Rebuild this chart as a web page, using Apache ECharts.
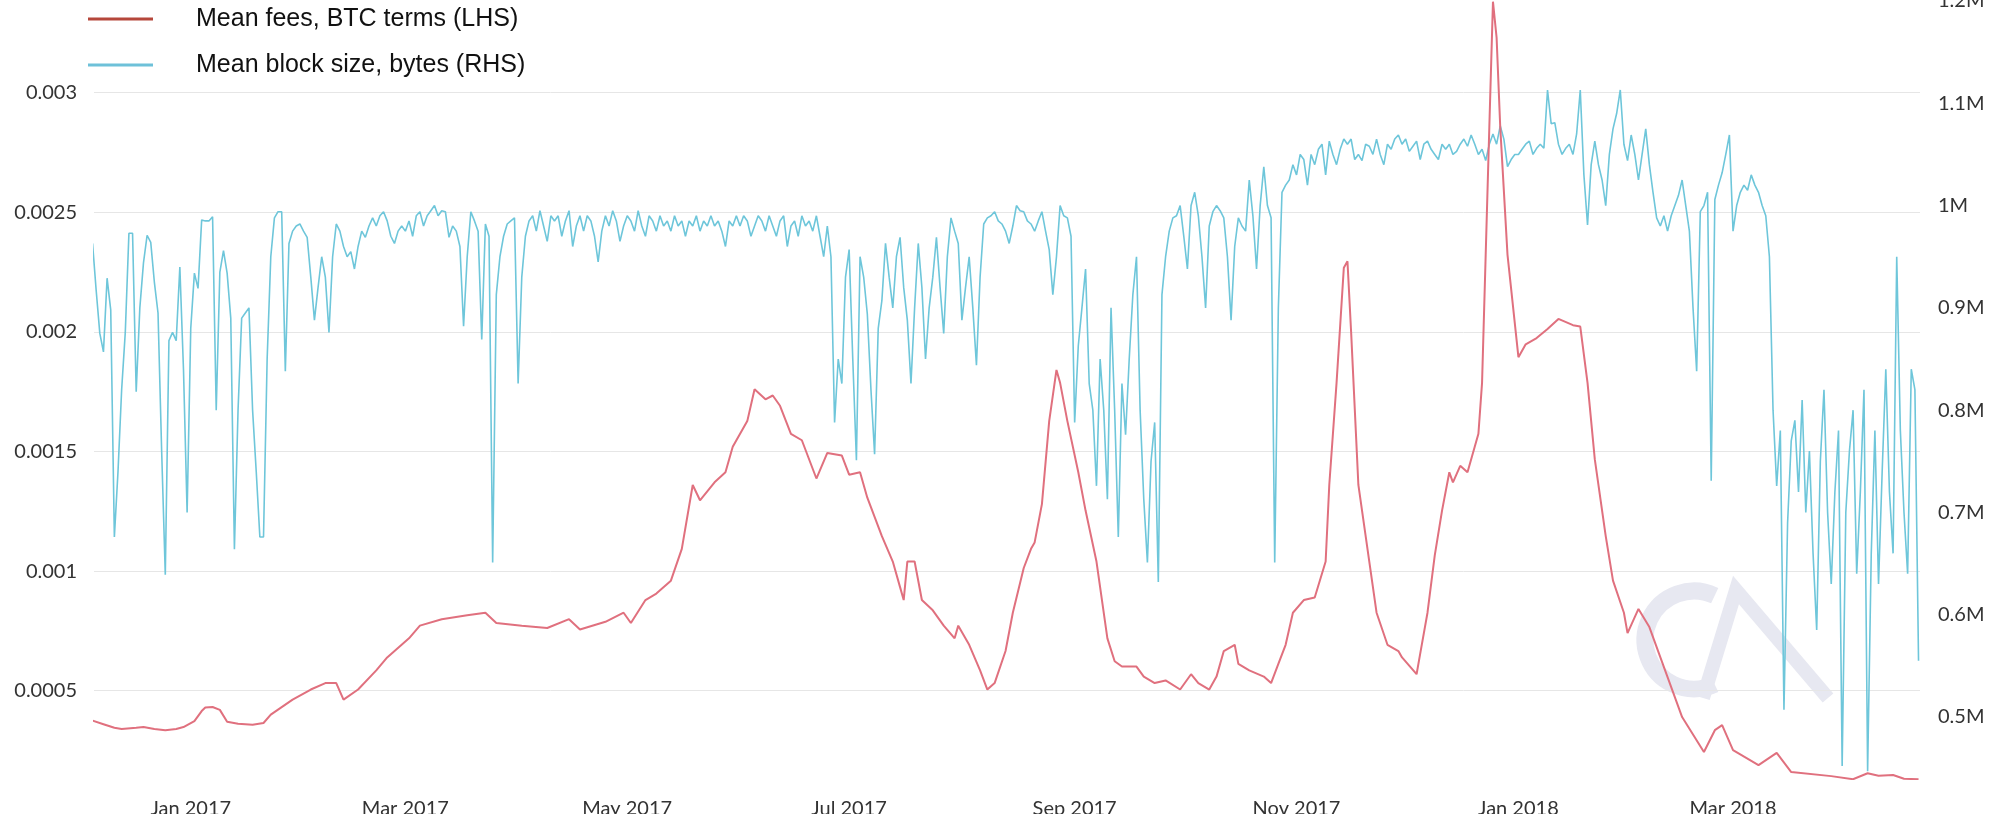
<!DOCTYPE html>
<html><head><meta charset="utf-8">
<script src="https://cdn.jsdelivr.net/npm/echarts@6/dist/echarts.min.js"></script>
<style>html,body{margin:0;padding:0;background:#fff}#c{width:2000px;height:814px}</style>
</head><body><div id="c"></div>
<script>
// Day offsets are days counted from 2017-01-01
const BASE_DATE = [2017, 0, 1];
const X_MIN_DAY = -26.6, X_MAX_DAY = 475.4;
const xTickDates = ['2017-01-01','2017-03-01','2017-05-01','2017-07-01','2017-09-01','2017-11-01','2018-01-01','2018-03-01'];
const xTickLabels = ['Jan 2017','Mar 2017','May 2017','Jul 2017','Sep 2017','Nov 2017','Jan 2018','Mar 2018'];
const seriesNames = ['Mean fees, BTC terms (LHS)', 'Mean block size, bytes (RHS)'];

// Mean fees (BTC) at these day offsets
const feeDay = [-27,-24,-21,-19,-15,-13,-10,-7,-4,-2,1,3,4,6,8,10,13,17,20,22,28,33,37,40,42,46,51,54,60,63,69,76,81,84,91,98,104,107,114,119,121,125,128,132,135,138,140,144,147,149,153,155,158,160,162,165,168,172,175,179,181,184,186,190,193,195,196,197,199,201,204,207,210,211,214,217,219,221,224,226,229,231,232,234,236,238,239,241,244,246,249,252,254,256,260,262,265,268,272,275,277,280,282,284,287,288,291,295,297,299,301,303,306,309,312,313,315,317,318,319,321,324,326,329,332,333,337,338,340,342,344,346,347,349,351,354,355,356,357,358,359,360,362,365,367,370,373,376,380,382,384,386,389,391,394,395,398,401,406,410,416,419,421,424,431,436,440,451,457,461,464,468,471,475];
const fee = [0.000375,0.00036,0.000345,0.00034,0.000345,0.000348,0.00034,0.000335,0.00034,0.000348,0.000373,0.000415,0.00043,0.000432,0.00042,0.00037,0.000362,0.000358,0.000365,0.0004,0.000463,0.000505,0.000532,0.000532,0.000463,0.000505,0.000585,0.000639,0.000719,0.000772,0.000799,0.000815,0.000826,0.000783,0.000772,0.000762,0.000799,0.000756,0.000788,0.000826,0.000783,0.000879,0.000906,0.00096,0.001093,0.00136,0.001296,0.001371,0.001413,0.00152,0.001627,0.00176,0.001718,0.001734,0.001691,0.001574,0.001547,0.001387,0.001494,0.001483,0.001403,0.001413,0.001307,0.001146,0.00104,0.000933,0.000879,0.00104,0.00104,0.000879,0.000836,0.000772,0.000719,0.000772,0.000692,0.000585,0.000505,0.000532,0.000666,0.000826,0.001013,0.001093,0.00112,0.00128,0.001627,0.001841,0.001787,0.001627,0.001413,0.001253,0.00104,0.000719,0.000623,0.000601,0.000601,0.000559,0.000532,0.000543,0.000505,0.000569,0.000532,0.000505,0.000559,0.000666,0.000692,0.000612,0.000585,0.000559,0.000532,0.000612,0.000692,0.000826,0.000879,0.00089,0.00104,0.00136,0.001787,0.002268,0.002295,0.002001,0.00136,0.00104,0.000826,0.000692,0.000666,0.000639,0.000569,0.000655,0.000826,0.001066,0.001253,0.001413,0.001371,0.00144,0.001413,0.001574,0.001787,0.002322,0.002856,0.00338,0.00323,0.002856,0.002322,0.001894,0.001948,0.001974,0.002012,0.002054,0.002028,0.002022,0.001787,0.001467,0.001146,0.00096,0.000826,0.000741,0.000842,0.000766,0.000557,0.00039,0.000244,0.000335,0.000356,0.000252,0.000189,0.00024,0.00016,0.000143,0.00013,0.000155,0.000145,0.000148,0.000132,0.00013];

// Mean block size (millions of bytes), one value per day starting 2016-12-05
const blockStart = '2016-12-05';
const blockSize = [
// Dec 2016 (from 5th)
0.963,0.917,0.875,0.857,0.929,0.898,0.676,0.74,0.82,0.876,0.973,0.973,0.818,0.9,0.944,0.971,0.964,0.925,0.895,0.76,0.639,0.868,0.876,0.868,0.94,0.84,0.70,
// Jan 2017
0.88,0.934,0.919,0.986,0.985,0.985,0.989,0.80,0.935,0.956,0.934,0.89,0.664,0.80,0.89,0.895,0.90,0.80,0.74,0.676,0.676,0.85,0.95,0.988,0.994,0.994,0.838,0.963,0.975,0.98,0.982,
// Feb 2017
0.975,0.969,0.93,0.888,0.92,0.95,0.93,0.876,0.95,0.982,0.975,0.96,0.95,0.955,0.938,0.96,0.975,0.969,0.98,0.988,0.98,0.99,0.994,0.985,0.97,0.963,0.975,0.98,
// Mar 2017
0.975,0.985,0.97,0.99,0.994,0.98,0.99,0.995,1.0,0.99,0.995,0.994,0.969,0.98,0.975,0.96,0.882,0.95,0.994,0.985,0.975,0.869,0.982,0.97,0.651,0.913,0.95,0.97,0.982,0.985,0.988,
// Apr 2017
0.826,0.93,0.97,0.985,0.99,0.975,0.995,0.98,0.965,0.99,0.985,0.99,0.97,0.985,0.995,0.96,0.98,0.99,0.975,0.99,0.985,0.97,0.945,0.975,0.99,0.98,0.995,0.985,0.965,0.98,
// May 2017
0.99,0.985,0.975,0.995,0.98,0.97,0.99,0.985,0.975,0.99,0.98,0.985,0.975,0.99,0.98,0.985,0.97,0.985,0.98,0.99,0.975,0.985,0.98,0.99,0.98,0.985,0.975,0.96,0.985,0.98,0.99,
// Jun 2017
0.98,0.99,0.985,0.97,0.98,0.99,0.985,0.975,0.99,0.98,0.97,0.985,0.99,0.96,0.98,0.985,0.97,0.99,0.98,0.985,0.975,0.99,0.97,0.95,0.98,0.95,0.788,0.85,0.826,0.93,
// Jul 2017
0.957,0.85,0.751,0.95,0.93,0.894,0.82,0.757,0.88,0.907,0.963,0.93,0.9,0.95,0.969,0.92,0.888,0.826,0.9,0.963,0.92,0.85,0.9,0.93,0.969,0.92,0.875,0.95,0.988,0.975,0.963,
// Aug 2017
0.888,0.92,0.95,0.9,0.844,0.93,0.982,0.988,0.99,0.994,0.985,0.982,0.975,0.963,0.98,1.0,0.995,0.994,0.985,0.982,0.975,0.985,0.994,0.975,0.957,0.913,0.95,1.0,0.99,0.988,0.97,
// Sep 2017
0.788,0.863,0.9,0.938,0.826,0.8,0.726,0.85,0.8,0.713,0.9,0.8,0.676,0.826,0.776,0.85,0.913,0.95,0.8,0.713,0.651,0.75,0.788,0.632,0.913,0.95,0.975,0.988,0.99,1.0,
// Oct 2017
0.97,0.938,1.0,1.013,0.99,0.95,0.9,0.98,0.994,1.0,0.995,0.988,0.95,0.888,0.96,0.988,0.98,0.975,1.025,0.99,0.938,1.0,1.038,1.0,0.988,0.651,0.9,1.013,1.02,1.025,1.04,
// Nov 2017
1.03,1.05,1.045,1.02,1.05,1.04,1.055,1.06,1.03,1.063,1.05,1.04,1.055,1.065,1.06,1.065,1.045,1.05,1.044,1.06,1.058,1.05,1.065,1.05,1.04,1.06,1.055,1.065,1.069,1.06,
// Dec 2017
1.065,1.053,1.058,1.063,1.045,1.06,1.063,1.055,1.05,1.045,1.06,1.055,1.06,1.05,1.053,1.06,1.065,1.058,1.069,1.06,1.05,1.055,1.044,1.06,1.07,1.06,1.078,1.065,1.038,1.045,1.05,
// Jan 2018
1.05,1.055,1.06,1.063,1.05,1.056,1.06,1.056,1.113,1.08,1.081,1.06,1.05,1.056,1.06,1.05,1.07,1.113,1.03,0.981,1.04,1.063,1.04,1.025,1.0,1.05,1.075,1.09,1.113,1.06,1.044,
// Feb 2018
1.069,1.05,1.025,1.05,1.075,1.04,1.013,0.988,0.98,0.99,0.975,0.99,1.0,1.01,1.025,1.0,0.975,0.9,0.838,0.994,1.0,1.013,0.731,1.006,1.02,1.032,1.05,1.069,
// Mar 2018
0.975,1.0,1.013,1.02,1.015,1.03,1.02,1.013,1.0,0.99,0.95,0.8,0.726,0.78,0.507,0.69,0.77,0.79,0.72,0.81,0.7,0.76,0.66,0.585,0.75,0.82,0.7,0.63,0.72,0.78,0.452,
// Apr 2018
0.7,0.76,0.8,0.64,0.72,0.82,0.447,0.66,0.78,0.63,0.74,0.84,0.72,0.66,0.95,0.78,0.7,0.64,0.84,0.82,0.555
];

const DAY = 86400000;
const base = new Date(BASE_DATE[0], BASE_DATE[1], BASE_DATE[2]).getTime();
function parseDate(s){ const p = s.split('-').map(Number); return new Date(p[0], p[1]-1, p[2]).getTime(); }
const feeData = feeDay.map((d, i) => [base + d * DAY, fee[i]]);
const b0 = parseDate(blockStart);
const blockData = blockSize.map((v, i) => [b0 + i * DAY, v]);
const tickValues = xTickDates.map(parseDate);

const FEE_COLOR = '#e0707e', BLOCK_COLOR = '#6ec6da';
const labelFont = { fontFamily: 'Lato', fontSize: 20, color: '#333' };

const chart = echarts.init(document.getElementById('c'), null, { renderer: 'canvas' });
chart.setOption({
  animation: false,
  backgroundColor: '#fff',
  grid: { left: 94, right: 80, top: 1, bottom: 35, containLabel: false, outerBoundsMode: 'none' },
  xAxis: {
    type: 'value',
    min: base + X_MIN_DAY * DAY,
    max: base + X_MAX_DAY * DAY,
    axisLine: { show: false },
    axisTick: { show: false },
    splitLine: { show: false },
    axisLabel: Object.assign({
      customValues: tickValues,
      margin: 20,
      formatter: function (v) {
        let best = 0, bd = Infinity;
        tickValues.forEach((t, i) => { const dd = Math.abs(t - v); if (dd < bd) { bd = dd; best = i; } });
        return bd < DAY ? xTickLabels[best] : '';
      }
    }, labelFont)
  },
  yAxis: [
    {
      type: 'value', position: 'left',
      min: 0.000131, max: 0.003383,
      axisLine: { show: false }, axisTick: { show: false },
      splitLine: { show: true, showMinLine: false, showMaxLine: false, lineStyle: { color: '#e6e6e6', width: 1 } },
      axisLabel: Object.assign({ margin: 17, showMinLabel: false, showMaxLabel: false,
        formatter: v => String(+v.toFixed(4)) }, labelFont)
    },
    {
      type: 'value', position: 'right',
      min: 0.4394, max: 1.2, splitNumber: 8,
      axisLine: { show: false }, axisTick: { show: false },
      splitLine: { show: false },
      axisLabel: Object.assign({ margin: 18, showMinLabel: false, showMaxLabel: true,
        formatter: v => String(+v.toFixed(1)) + 'M' }, labelFont)
    }
  ],
  graphic: [
    { type: 'arc', z: -10, silent: true,
      shape: { cx: 1694, cy: 640, r: 49, startAngle: -65 * Math.PI / 180, endAngle: 65 * Math.PI / 180, clockwise: false },
      style: { stroke: '#e7e8f1', lineWidth: 17, fill: null } },
    { type: 'polyline', z: -10, silent: true,
      shape: { points: [[1703, 698], [1736, 590], [1828, 698]] },
      style: { stroke: '#e7e8f1', lineWidth: 14, fill: null } },
    { type: 'line', shape: { x1: 88, y1: 19, x2: 153, y2: 19 }, style: { stroke: '#b5473b', lineWidth: 3 } },
    { type: 'text', x: 196, y: 19, style: { text: seriesNames[0], fontFamily: 'Liberation Sans', fontSize: 25, fill: '#111', verticalAlign: 'middle' } },
    { type: 'line', shape: { x1: 88, y1: 65, x2: 153, y2: 65 }, style: { stroke: '#6ec1d9', lineWidth: 3 } },
    { type: 'text', x: 196, y: 65, style: { text: seriesNames[1], fontFamily: 'Liberation Sans', fontSize: 25, fill: '#111', verticalAlign: 'middle' } }
  ],
  series: [
    { name: seriesNames[0], type: 'line', yAxisIndex: 0, data: feeData, showSymbol: false, z: 3,
      lineStyle: { color: FEE_COLOR, width: 2 }, itemStyle: { color: FEE_COLOR } },
    { name: seriesNames[1], type: 'line', yAxisIndex: 1, data: blockData, showSymbol: false, z: 2,
      lineStyle: { color: BLOCK_COLOR, width: 1.6 }, itemStyle: { color: BLOCK_COLOR } }
  ]
});
</script></body></html>
